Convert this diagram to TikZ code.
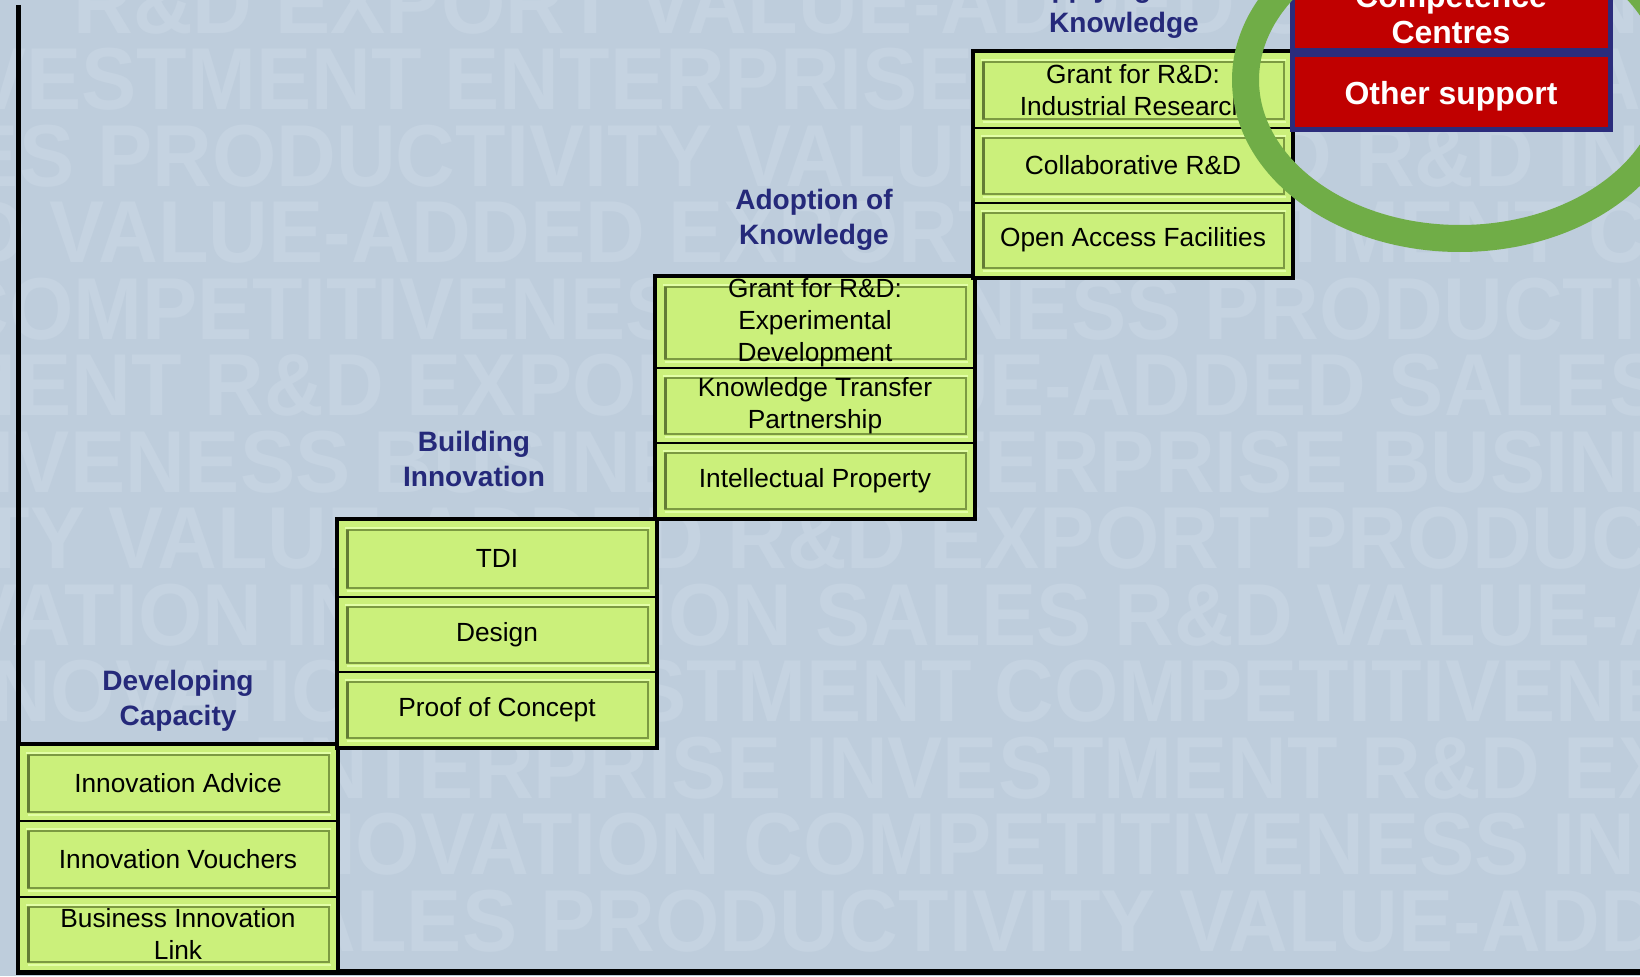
\documentclass[tikz,border=0pt]{standalone}
\usepackage{graphicx}
\usepackage{fontspec}
\setmainfont{Liberation Sans}
\usetikzlibrary{calc}
\definecolor{bgblue}{HTML}{BECDDC}
\definecolor{wmblue}{HTML}{C5D3E1}
\definecolor{boxgreen}{HTML}{CBF07B}
\definecolor{bevelolive}{HTML}{7C9A42}
\definecolor{bevellight}{HTML}{E2FFA6}
\definecolor{headnavy}{HTML}{25297A}
\definecolor{boxred}{HTML}{C00000}
\definecolor{rednavy}{HTML}{2B2C7C}
\definecolor{ringgreen}{HTML}{70AD47}
\def\pxunit{0.5669pt}
\tikzset{
  gbox/.style={draw=black, line width=2.5*\pxunit, fill=boxgreen,
    minimum width=318*\pxunit, inner sep=0pt, align=center,
    font=\fontsize{14.9}{18.1}\selectfont,
    path picture={
      \draw[bevellight, line width=2*\pxunit]
        ([shift={(7,8)}]path picture bounding box.north west) --
        ([shift={(-6,8)}]path picture bounding box.north east);
      \draw[bevelolive, line width=2*\pxunit]
        ([shift={(9,10)}]path picture bounding box.north west) rectangle
        ([shift={(-8,-9)}]path picture bounding box.south east);
      \draw[bevelolive!80!black, line width=3*\pxunit]
        ([shift={(9,10)}]path picture bounding box.north west) --
        ([shift={(9,-9)}]path picture bounding box.south west);
      \draw[bevellight, line width=2*\pxunit]
        ([shift={(9,-6)}]path picture bounding box.south west) --
        ([shift={(-6,-6)}]path picture bounding box.south east);
    }},
  colframe/.style={draw=black, line width=3.5*\pxunit},
  head/.style={text=headnavy, font=\fontsize{15.9}{19.8}\selectfont\bfseries,
    align=center, inner sep=0pt},
  redbox/.style={draw=rednavy, line width=5*\pxunit, fill=boxred,
    minimum width=318*\pxunit, inner sep=0pt},
  redtxt/.style={text=white, font=\fontsize{18.1}{20.4}\selectfont\bfseries,
    align=center, inner sep=0pt},
  wm/.style={text=wmblue, font=\fontsize{49.9}{50}\selectfont\bfseries,
    anchor=west, inner sep=0pt, text height=35.7pt, text depth=0pt},
  axisline/.style={draw=black, line width=5.5*\pxunit},
  ring/.style={draw=ringgreen, line width=27*\pxunit}
}
\newcommand{\wmtext}[1]{\scalebox{0.94}[1]{#1}}
\begin{document}
\begin{tikzpicture}[x=0.5669pt, y=-0.5669pt]
\useasboundingbox (0,0) rectangle (1640,976);
\clip (0,0) rectangle (1640,976);
\fill[bgblue] (0,0) rectangle (1640,976);

% watermark
\node[wm] (w1) at (73,2) {\wmtext{R\&D EXPORT VALUE-ADDED SALES INNOVATION}};
\node[wm] (w2) at (-112,78) {\wmtext{INVESTMENT ENTERPRISE INNOVATION SALES R\&D}};
\node[wm] (w3) at (-202,155) {\wmtext{SALES PRODUCTIVITY VALUE-ADDED R\&D INNOVATION}};
\node[wm] (w4) at (-153,231) {\wmtext{R\&D VALUE-ADDED EXPORT INVESTMENT COMPETITIVENESS}};
\node[wm] (w5) at (-51,308) {\wmtext{COMPETITIVENESS BUSINESS PRODUCTIVITY}};
\node[wm] (w6) at (-352,384) {\wmtext{INVESTMENT R\&D EXPORT VALUE-ADDED SALES}};
\node[wm] (w7) at (-436,461) {\wmtext{COMPETITIVENESS BUSINESS ENTERPRISE BUSINESS}};
\node[wm] (w8) at (-531,537) {\wmtext{PRODUCTIVITY VALUE-ADDED R\&D EXPORT PRODUCTIVITY}};
\node[wm] (w9) at (-245,614) {\wmtext{INNOVATION INNOVATION SALES R\&D VALUE-ADDED}};
\node[wm] (w10) at (-92,690) {\wmtext{INNOVATION INVESTMENT COMPETITIVENESS}};
\node[wm] (w11) at (253,767) {\wmtext{ENTERPRISE INVESTMENT R\&D EXPORT}};
\node[wm] (w12) at (213,843) {\wmtext{INNOVATION COMPETITIVENESS INNOVATION}};
\node[wm] (w13) at (241,920) {\wmtext{SALES PRODUCTIVITY VALUE-ADDED}};

% axes
\coordinate (axtop) at (18.5,5);
\coordinate (origin) at (18.5,972);
\coordinate (axright) at (1640,972);
\draw[axisline] (axtop) -- (origin) -- (axright);

% column 1
\node[gbox, minimum height=76*\pxunit] (b11) at (178,783) {Innovation Advice};
\node[gbox, minimum height=76*\pxunit] (b12) at (178,859) {Innovation Vouchers};
\node[gbox, minimum height=74*\pxunit] (b13) at (178,934) {Business Innovation\\Link};
\draw[colframe] (b11.north west) rectangle (b13.south east);
% column 2
\node[gbox, minimum height=77*\pxunit] (b21) at (497,558.5) {TDI};
\node[gbox, minimum height=75*\pxunit] (b22) at (497,634.5) {Design};
\node[gbox, minimum height=75*\pxunit] (b23) at (497,709.5) {Proof of Concept};
\draw[colframe] (b21.north west) rectangle (b23.south east);
% column 3
\node[gbox, minimum height=91*\pxunit] (b31) at (815,322.5) {Grant for R\&D:\\Experimental\\Development};
\node[gbox, minimum height=75*\pxunit] (b32) at (815,405.5) {Knowledge Transfer\\Partnership};
\node[gbox, minimum height=75*\pxunit] (b33) at (815,480.5) {Intellectual Property};
\draw[colframe] (b31.north west) rectangle (b33.south east);
% column 4
\node[gbox, minimum height=76*\pxunit] (b41) at (1133,90) {Grant for R\&D:\\Industrial Research};
\node[gbox, minimum height=75*\pxunit] (b42) at (1133,165.5) {Collaborative R\&D};
\node[gbox, minimum height=74*\pxunit] (b43) at (1133,240) {Open Access Facilities};
\draw[colframe] (b41.north west) rectangle (b43.south east);

% headings
\node[head] (h1) at (178,701) {Developing\\Capacity};
\node[head] (h2) at (474,459) {Building\\Innovation};
\node[head] (h3) at (814,219.5) {Adoption of\\Knowledge};
\node[head] (h4) at (1124,7.5) {Applying New\\Knowledge};

% red boxes
\node[redbox, minimum height=110*\pxunit] (r1) at (1451,-4) {};
\node[redbox, minimum height=75*\pxunit] (r2) at (1451,92.5) {};
\node[redtxt] (r1t) at (1451,15) {Competence\\Centres};
\node[redtxt] (r2t) at (1451,96) {Other support};

% green ring
\draw[ring] (1460,80) ellipse [x radius=214.5, y radius=158.5];
\end{tikzpicture}
\end{document}
